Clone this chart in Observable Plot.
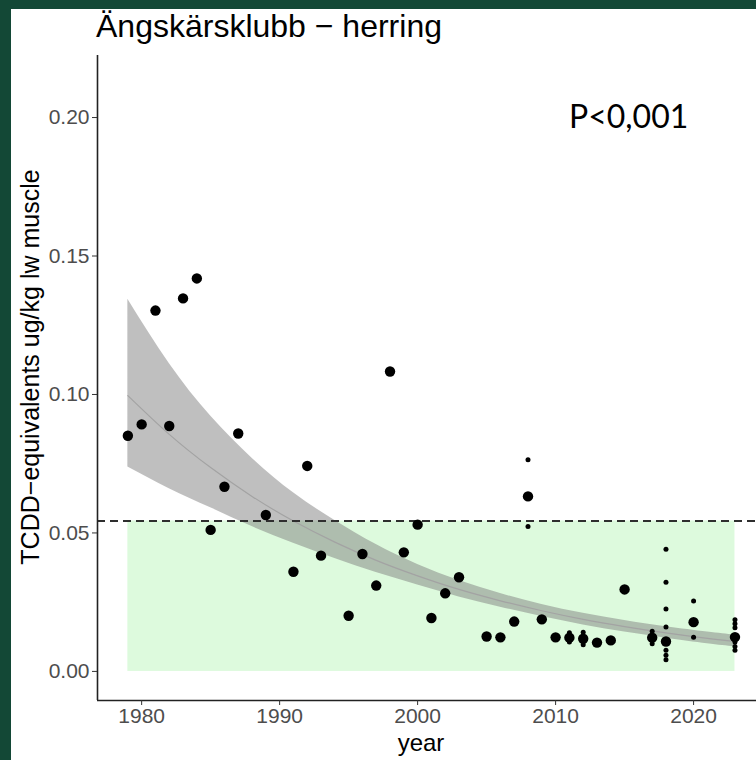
<!DOCTYPE html>
<html><head><meta charset="utf-8">
<script src="https://cdn.jsdelivr.net/npm/d3@7"></script>
<script src="https://cdn.jsdelivr.net/npm/@observablehq/plot@0.6"></script>
<style>
body{margin:0;width:756px;height:760px;background:#134836;overflow:hidden;position:relative;font-family:"Liberation Sans",Arial,sans-serif;}
#panel{position:absolute;left:11px;top:9px;width:745px;height:751px;background:#fff;}
#chart{position:absolute;left:0;top:0;}
#title{position:absolute;left:96px;top:8px;font-size:32px;color:#000;white-space:nowrap;}
#pval{position:absolute;left:569px;top:96px;font-family:Lato,"Open Sans",sans-serif;font-size:32px;color:#000;}
</style></head><body>
<div id="panel"></div>
<div id="chart"></div>
<div id="title">Ängskärsklubb − herring</div>
<div id="pval">P&lt;0,001</div>
<script>
// Annual means (large dots)
const meanYears = [1979,1980,1981,1982,1983,1984,1985,1986,1987,1989,1991,1992,1993,1995,1996,1997,1998,1999,2000,2001,2002,2003,2005,2006,2007,2008,2009,2010,2011,2012,2013,2014,2015,2017,2018,2020,2023];
const meanValues = [0.0851,0.0892,0.1303,0.0886,0.1347,0.1419,0.0511,0.0667,0.0859,0.0565,0.0360,0.0742,0.0418,0.0201,0.0424,0.0310,0.1083,0.0430,0.0530,0.0193,0.0282,0.0340,0.0126,0.0123,0.0180,0.0632,0.0188,0.0123,0.0122,0.0118,0.0104,0.0112,0.0296,0.0122,0.0108,0.0178,0.0124];
// Individual samples (small dots)
const indivYears = [2008,2008,2011,2011,2012,2012,2017,2017,2018,2018,2018,2018,2018,2018,2018,2020,2020,2023,2023,2023,2023,2023,2023];
const indivValues = [0.0764,0.0523,0.0140,0.0106,0.0141,0.0096,0.0145,0.0100,0.0441,0.0322,0.0225,0.0160,0.0076,0.0058,0.0042,0.0254,0.0123,0.0187,0.0172,0.0158,0.0106,0.0090,0.0076];
// Fitted trend and its confidence band
const fitYears  = [1979,1982,1985,1988,1991,1994,1997,2000,2003,2006,2009,2012,2015,2018,2021,2023];
const fitCenter = [0.0996,0.0856,0.0736,0.0632,0.0543,0.0467,0.0401,0.0345,0.0296,0.0255,0.0219,0.0188,0.0162,0.0139,0.0119,0.0108];
const fitUpper  = [0.1344,0.1112,0.0922,0.0770,0.0645,0.0545,0.0458,0.0386,0.0328,0.0281,0.0242,0.0210,0.0184,0.0161,0.0142,0.0131];
const fitLower  = [0.0738,0.0660,0.0591,0.0523,0.0463,0.0408,0.0357,0.0312,0.0269,0.0232,0.0198,0.0168,0.0142,0.0120,0.0100,0.0089];
// Reference level and period
const targetLevel = 0.0543;
const refStart = 1979, refEnd = 2023;
const xTicks = [1980,1990,2000,2010,2020];
const yTicks = [0,0.05,0.10,0.15,0.20];
const yLabel = "TCDD−equivalents ug/kg lw muscle";
const xLabel = "year";

const means = meanYears.map((year,i)=>({year, value: meanValues[i]}));
const indiv = indivYears.map((year,i)=>({year, value: indivValues[i]}));
const fit = fitYears.map((year,i)=>({year, center: fitCenter[i], upper: fitUpper[i], lower: fitLower[i]}));
const xDomain = [1976.8, 2024.56];
const yDomain = [-0.0105, 0.2224];

const plot = Plot.plot({
  width: 756, height: 760,
  marginLeft: 97, marginRight: 0, marginTop: 55, marginBottom: 60,
  style: {background: "transparent", fontFamily: "'Liberation Sans', Arial, sans-serif", overflow: "visible"},
  x: {domain: xDomain},
  y: {domain: yDomain},
  marks: [
    Plot.rect([{x1: refStart, x2: refEnd, y1: 0, y2: targetLevel}], {x1: "x1", x2: "x2", y1: "y1", y2: "y2", fill: "#90ee90", fillOpacity: 0.3}),
    Plot.areaY(fit, {x: "year", y1: "lower", y2: "upper", fill: "#7f7f7f", fillOpacity: 0.5, curve: "natural"}),
    Plot.lineY(fit, {x: "year", y: "center", stroke: "#a3a3a3", strokeWidth: 1.2, curve: "natural"}),
    Plot.ruleY([targetLevel], {stroke: "#2e2e2e", strokeWidth: 2, strokeDasharray: "8,5"}),
    Plot.dot(indiv, {x: "year", y: "value", r: 2.5, fill: "black"}),
    Plot.dot(means, {x: "year", y: "value", r: 5.2, fill: "black"}),
    Plot.ruleX([xDomain[0]], {stroke: "#222", strokeWidth: 1.6}),
    Plot.ruleY([yDomain[0]], {stroke: "#222", strokeWidth: 1.6}),
    Plot.axisX({ticks: xTicks, tickFormat: d => String(d), label: null, tickSize: 5, tickPadding: 3, fontSize: 21, fill: "#4d4d4d", stroke: "#333"}),
    Plot.axisY({ticks: yTicks, tickFormat: d => d.toFixed(2), label: null, tickSize: 5, tickPadding: 3, fontSize: 21, fill: "#4d4d4d", stroke: "#333"}),
    Plot.text([yLabel], {frameAnchor: "left", textAnchor: "middle", rotate: -90, dx: -67, dy: -11, fontSize: 25, fill: "#000"}),
    Plot.text([xLabel], {frameAnchor: "bottom", dy: 50, dx: -6, fontSize: 24, fill: "#000"})
  ]
});
document.getElementById("chart").appendChild(plot);
</script>
</body></html>
